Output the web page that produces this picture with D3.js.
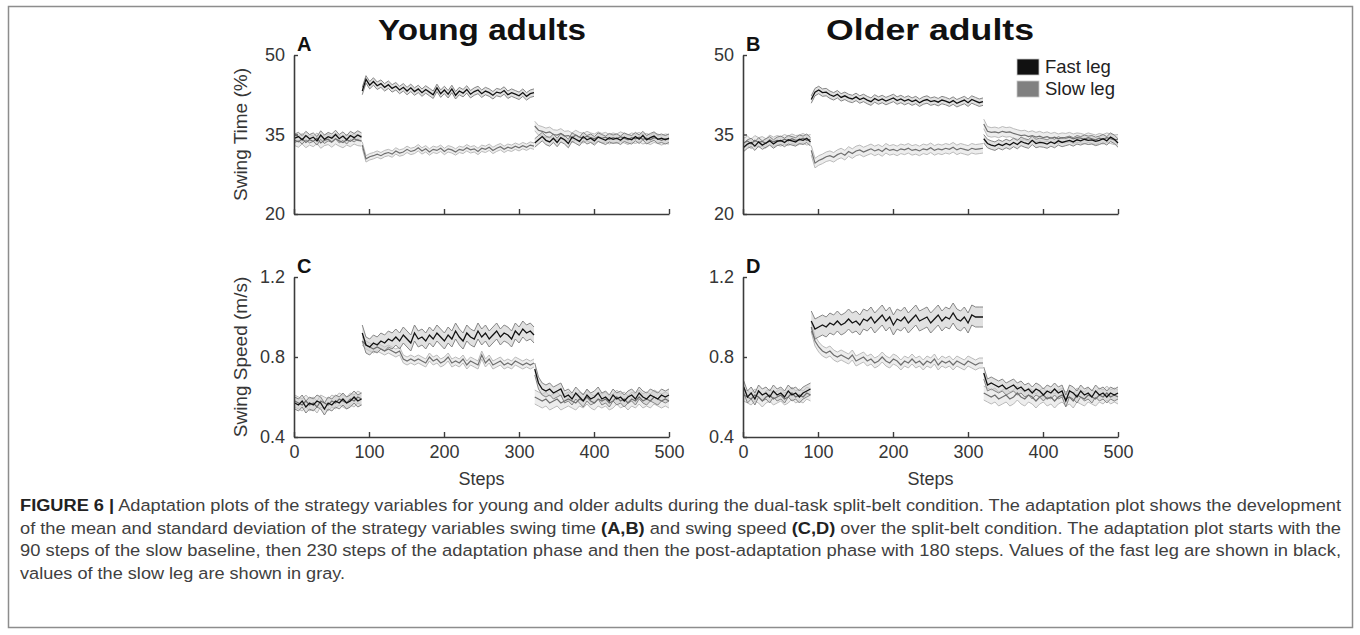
<!DOCTYPE html>
<html>
<head>
<meta charset="utf-8">
<script src="https://cdn.jsdelivr.net/npm/d3@7"></script>
<style>
  body { margin: 0; background: #fff; }
  svg { display: block; font-family: "Liberation Sans", Arial, Helvetica, sans-serif; }
</style>
</head>
<body>
<div id="chart"></div>
<script>
// Step ranges of the three phases: slow baseline, adaptation, post-adaptation
const phases = [[1, 90], [91, 320], [321, 500]];
const xTicks = [0, 100, 200, 300, 400, 500];

// Young adults, swing time (%) - [baseline, adaptation, post]
const youngTimeFast = [
    [34.3, 34.6, 34.0, 34.8, 34.2, 34.5, 33.8, 34.9, 34.1, 34.6, 34.3, 35.0, 34.2, 34.7, 34.0, 34.8, 34.4, 34.9, 34.5],
    [43.2, 45.4, 44.3, 45.0, 44.2, 44.6, 43.9, 44.4, 43.7, 44.1, 43.4, 43.9, 43.2, 43.8, 43.1, 43.6, 42.9, 43.5, 43.0, 42.5, 43.8, 42.7, 43.4, 42.6, 43.6, 42.4, 43.2, 42.8, 43.5, 42.6, 43.1, 43.4, 42.7, 43.2, 42.9, 42.4, 43.0, 42.8, 43.3, 42.5, 42.9, 42.6, 42.3, 42.9, 42.2, 42.7, 42.9],
    [33.4, 34.0, 34.6, 33.9, 33.6, 34.3, 33.5, 34.4, 34.0, 33.3, 34.5, 34.1, 33.7, 34.6, 34.0, 34.3, 33.8, 34.5, 34.2, 33.9, 34.4, 34.1, 34.3, 33.9, 34.5, 34.2, 34.0, 34.6, 34.1, 34.8, 34.0, 34.4, 34.7, 34.1, 34.3, 34.0, 34.3]
];
const youngTimeSlow = [
    [33.9, 33.6, 34.2, 33.5, 34.0, 33.7, 34.3, 33.4, 33.9, 34.1, 33.6, 34.2, 33.8, 33.5, 34.0, 33.7, 34.2, 33.9, 33.8],
    [33.0, 30.4, 30.8, 31.0, 31.3, 31.0, 31.4, 31.6, 31.3, 31.9, 31.5, 31.7, 32.2, 31.8, 32.0, 32.5, 31.9, 32.3, 31.7, 32.2, 32.0, 32.4, 31.8, 32.3, 32.1, 31.7, 32.2, 32.0, 32.5, 32.1, 32.3, 31.8, 32.4, 32.2, 32.6, 32.0, 32.4, 32.7, 32.2, 32.6, 32.4, 32.8, 32.5, 32.9, 32.6, 33.0, 32.8],
    [36.6, 35.8, 35.6, 35.3, 35.5, 35.0, 34.9, 35.2, 34.7, 34.8, 34.4, 34.9, 34.5, 34.3, 34.7, 34.4, 34.2, 34.6, 34.3, 34.5, 34.1, 34.4, 34.2, 34.6, 34.3, 34.0, 34.4, 34.2, 34.5, 34.1, 34.3, 34.0, 34.4, 34.2, 33.9, 34.2, 34.1]
];

// Older adults, swing time (%)
const olderTimeFast = [
    [32.6, 33.2, 33.5, 32.8, 33.6, 33.0, 33.4, 33.8, 33.2, 33.7, 33.9, 33.5, 34.0, 33.8, 33.6, 34.1, 33.9, 34.3, 33.6],
    [41.6, 43.0, 43.4, 42.9, 43.0, 42.5, 42.2, 42.6, 42.0, 42.3, 41.9, 41.7, 42.1, 41.6, 41.9, 41.5, 41.2, 41.8, 41.4, 41.7, 41.3, 41.6, 41.9, 41.4, 41.7, 41.3, 41.6, 41.2, 41.5, 41.0, 41.4, 41.6, 41.2, 41.4, 41.1, 41.5, 41.3, 41.0, 41.4, 40.9, 41.2, 41.5, 41.0, 41.6, 41.3, 41.0, 41.2],
    [34.2, 33.3, 33.0, 32.8, 33.2, 32.9, 33.3, 33.0, 33.5, 33.1, 33.7, 33.4, 33.2, 33.9, 33.3, 33.5, 33.4, 33.2, 33.6, 33.3, 33.8, 33.5, 33.7, 33.9, 33.6, 34.0, 33.8, 34.1, 33.9, 34.0, 33.7, 33.9, 34.2, 33.8, 34.5, 34.1, 33.4]
];
const olderTimeSlow = [
    [33.4, 33.8, 33.2, 33.9, 33.5, 33.7, 33.3, 34.0, 33.6, 33.9, 33.7, 34.1, 33.8, 34.2, 33.9, 34.0, 34.3, 33.9, 34.1],
    [32.0, 29.6, 30.1, 30.4, 30.8, 31.0, 30.7, 31.2, 31.5, 31.1, 31.8, 31.4, 31.9, 32.1, 31.7, 32.0, 32.3, 31.9, 32.2, 31.8, 32.4, 32.0, 32.2, 31.9, 32.3, 32.1, 32.4, 32.0, 32.2, 31.9, 32.3, 32.1, 32.5, 32.0, 32.3, 32.1, 32.4, 32.2, 32.6, 32.1, 32.4, 32.2, 32.0, 32.4, 32.2, 32.3, 32.4],
    [37.0, 35.6, 35.4, 35.5, 35.3, 35.6, 35.4, 35.5, 35.2, 35.0, 34.8, 34.9, 34.6, 34.8, 34.5, 34.7, 34.4, 34.6, 34.3, 34.5, 34.2, 34.4, 34.3, 34.5, 34.2, 34.4, 34.3, 34.1, 34.4, 34.2, 34.0, 34.3, 34.1, 34.4, 34.2, 34.0, 34.1]
];

// Young adults, swing speed (m/s)
const youngSpeedFast = [
    [0.57, 0.56, 0.58, 0.55, 0.57, 0.56, 0.58, 0.57, 0.54, 0.57, 0.56, 0.58, 0.57, 0.59, 0.57, 0.58, 0.60, 0.58, 0.59],
    [0.92, 0.86, 0.85, 0.87, 0.86, 0.88, 0.87, 0.89, 0.88, 0.90, 0.88, 0.91, 0.89, 0.87, 0.92, 0.89, 0.90, 0.88, 0.91, 0.89, 0.92, 0.90, 0.88, 0.91, 0.89, 0.93, 0.90, 0.88, 0.92, 0.90, 0.89, 0.93, 0.90, 0.92, 0.89, 0.91, 0.93, 0.90, 0.92, 0.91, 0.89, 0.93, 0.91, 0.94, 0.92, 0.93, 0.91],
    [0.74, 0.67, 0.64, 0.63, 0.64, 0.62, 0.63, 0.64, 0.60, 0.61, 0.59, 0.62, 0.60, 0.58, 0.61, 0.59, 0.60, 0.62, 0.59, 0.60, 0.58, 0.61, 0.59, 0.60, 0.58, 0.60, 0.61, 0.59, 0.62, 0.60, 0.59, 0.61, 0.60, 0.59, 0.61, 0.60, 0.61]
];
const youngSpeedSlow = [
    [0.58, 0.57, 0.56, 0.58, 0.56, 0.57, 0.55, 0.58, 0.57, 0.56, 0.58, 0.57, 0.59, 0.58, 0.57, 0.59, 0.58, 0.60, 0.59],
    [0.88, 0.86, 0.85, 0.84, 0.85, 0.84, 0.83, 0.84, 0.83, 0.82, 0.83, 0.79, 0.78, 0.79, 0.78, 0.79, 0.78, 0.77, 0.80, 0.78, 0.79, 0.77, 0.78, 0.80, 0.77, 0.78, 0.77, 0.79, 0.76, 0.78, 0.77, 0.76, 0.81, 0.77, 0.79, 0.76, 0.77, 0.78, 0.76, 0.77, 0.76, 0.78, 0.77, 0.76, 0.77, 0.76, 0.77],
    [0.60, 0.59, 0.58, 0.59, 0.57, 0.58, 0.59, 0.57, 0.58, 0.59, 0.58, 0.57, 0.59, 0.58, 0.60, 0.58, 0.57, 0.59, 0.58, 0.59, 0.57, 0.58, 0.60, 0.58, 0.59, 0.57, 0.59, 0.58, 0.60, 0.58, 0.59, 0.58, 0.60, 0.59, 0.58, 0.59, 0.58]
];

// Older adults, swing speed (m/s)
const olderSpeedFast = [
    [0.65, 0.60, 0.62, 0.59, 0.63, 0.61, 0.62, 0.60, 0.63, 0.61, 0.62, 0.60, 0.63, 0.61, 0.62, 0.60, 0.62, 0.63, 0.64],
    [0.98, 0.94, 0.95, 0.96, 0.95, 0.97, 0.96, 0.98, 0.96, 0.97, 0.99, 0.97, 0.98, 0.96, 0.99, 0.98, 1.00, 0.97, 0.99, 1.01, 0.98, 1.00, 0.96, 0.99, 0.98, 1.00, 0.97, 0.99, 1.01, 0.98, 0.99, 1.00, 0.97, 0.99, 1.01, 0.98, 1.00, 0.99, 1.02, 0.99, 0.98, 1.00, 0.97, 1.01, 1.00, 1.00, 1.00],
    [0.72, 0.66, 0.67, 0.66, 0.65, 0.66, 0.64, 0.65, 0.66, 0.64, 0.65, 0.63, 0.64, 0.62, 0.64, 0.63, 0.61, 0.63, 0.62, 0.64, 0.62, 0.63, 0.58, 0.63, 0.62, 0.60, 0.63, 0.61, 0.62, 0.60, 0.63, 0.61, 0.62, 0.60, 0.62, 0.61, 0.62]
];
const olderSpeedSlow = [
    [0.61, 0.60, 0.59, 0.61, 0.60, 0.58, 0.60, 0.61, 0.59, 0.60, 0.61, 0.59, 0.60, 0.62, 0.60, 0.61, 0.60, 0.62, 0.61],
    [0.95, 0.88, 0.85, 0.83, 0.82, 0.83, 0.81, 0.80, 0.81, 0.80, 0.79, 0.81, 0.78, 0.79, 0.80, 0.78, 0.79, 0.77, 0.78, 0.80, 0.78, 0.77, 0.79, 0.78, 0.76, 0.78, 0.77, 0.79, 0.77, 0.78, 0.76, 0.78, 0.77, 0.79, 0.76, 0.78, 0.77, 0.78, 0.76, 0.78, 0.77, 0.76, 0.78, 0.77, 0.76, 0.77, 0.77],
    [0.62, 0.61, 0.60, 0.61, 0.59, 0.60, 0.61, 0.59, 0.60, 0.62, 0.60, 0.59, 0.61, 0.60, 0.58, 0.60, 0.61, 0.59, 0.60, 0.58, 0.60, 0.61, 0.59, 0.60, 0.58, 0.61, 0.60, 0.59, 0.61, 0.60, 0.59, 0.61, 0.60, 0.62, 0.60, 0.61, 0.60]
];

// Standard deviation per phase [baseline, adaptation, post]
const youngTimeFastSd = [0.8, 0.7, 0.8];
const youngTimeSlowSd = [1.0, 0.6, 0.9];
const olderTimeFastSd = [0.8, 0.7, 0.8];
const olderTimeSlowSd = [0.9, 0.9, 0.9];
const youngSpeedFastSd = [0.03, 0.04, 0.03];
const youngSpeedSlowSd = [0.03, 0.02, 0.035];
const olderSpeedFastSd = [0.03, 0.05, 0.03];
const olderSpeedSlowSd = [0.03, 0.025, 0.035];

const legendLabels = ['Fast leg', 'Slow leg'];

const captionLines = [
    [['FIGURE 6 |', true], [' Adaptation plots of the strategy variables for young and older adults during the dual-task split-belt condition. The adaptation plot shows the development', false]],
    [['of the mean and standard deviation of the strategy variables swing time ', false], ['(A,B)', true], [' and swing speed ', false], ['(C,D)', true], [' over the split-belt condition. The adaptation plot starts with the', false]],
    [['90 steps of the slow baseline, then 230 steps of the adaptation phase and then the post-adaptation phase with 180 steps. Values of the fast leg are shown in black,', false]],
    [['values of the slow leg are shown in gray.', false]]
];

const W = 1360, H = 635;
const COLORS = {
    fastLine: '#111111', fastBand: '#c9c9c9', fastEdge: '#7a7a7a',
    slowLine: '#6f6f6f', slowBand: '#dedede', slowEdge: '#b3b3b3',
    axis: '#3c3c3c', text: '#363636'
};

const panels = [
    { letter: 'A', left: 294, right: 669, top: 55, bottom: 214, yDomain: [20, 50], yTicks: [20, 35, 50],
      fast: youngTimeFast, slow: youngTimeSlow, fastSd: youngTimeFastSd, slowSd: youngTimeSlowSd,
      title: 'Young adults', titleX: 482, yLabel: 'Swing Time (%)', xLabels: false, legend: false },
    { letter: 'B', left: 743, right: 1118, top: 55, bottom: 214, yDomain: [20, 50], yTicks: [20, 35, 50],
      fast: olderTimeFast, slow: olderTimeSlow, fastSd: olderTimeFastSd, slowSd: olderTimeSlowSd,
      title: 'Older adults', titleX: 930, yLabel: null, xLabels: false, legend: true },
    { letter: 'C', left: 294, right: 669, top: 277, bottom: 437, yDomain: [0.4, 1.2], yTicks: [0.4, 0.8, 1.2],
      fast: youngSpeedFast, slow: youngSpeedSlow, fastSd: youngSpeedFastSd, slowSd: youngSpeedSlowSd,
      title: null, yLabel: 'Swing Speed (m/s)', xLabels: true, legend: false },
    { letter: 'D', left: 743, right: 1118, top: 277, bottom: 437, yDomain: [0.4, 1.2], yTicks: [0.4, 0.8, 1.2],
      fast: olderSpeedFast, slow: olderSpeedSlow, fastSd: olderSpeedFastSd, slowSd: olderSpeedSlowSd,
      title: null, yLabel: null, xLabels: true, legend: false }
];

const svg = d3.select('#chart').append('svg')
    .attr('width', W)
    .attr('height', H);

svg.append('rect').attr('width', W).attr('height', H).attr('fill', '#fff');

// Outer frame around figure + caption
svg.append('rect')
    .attr('x', 8.5).attr('y', 6.5)
    .attr('width', 1344).attr('height', 621)
    .attr('fill', 'none')
    .attr('stroke', '#8d8d8d')
    .attr('stroke-width', 1.5);

// Turn one series (three phases) into point lists
function toSegments(series, sd) {
    return series.map((vals, p) => {
        const [s0, s1] = phases[p];
        const n = vals.length;
        return vals.map((v, i) => ({
            step: s0 + i * (s1 - s0) / (n - 1),
            mean: v,
            sd: sd[p]
        }));
    });
}

function drawPanel(cfg) {
    const x = d3.scaleLinear().domain([0, 500]).range([cfg.left, cfg.right]);
    const y = d3.scaleLinear().domain(cfg.yDomain).range([cfg.bottom, cfg.top]);
    const g = svg.append('g');

    const line = d3.line().x(d => x(d.step)).y(d => y(d.mean));
    const lo = d3.line().x(d => x(d.step)).y(d => y(d.mean - d.sd));
    const hi = d3.line().x(d => x(d.step)).y(d => y(d.mean + d.sd));
    const area = d3.area().x(d => x(d.step)).y0(d => y(d.mean - d.sd)).y1(d => y(d.mean + d.sd));

    const fastSegs = toSegments(cfg.fast, cfg.fastSd);
    const slowSegs = toSegments(cfg.slow, cfg.slowSd);

    // bands
    [[slowSegs, COLORS.slowBand, COLORS.slowEdge], [fastSegs, COLORS.fastBand, COLORS.fastEdge]].forEach(([segs, fill, edge]) => {
        segs.forEach(seg => {
            g.append('path').attr('d', area(seg)).attr('fill', fill).attr('opacity', 0.55);
            g.append('path').attr('d', lo(seg)).attr('fill', 'none').attr('stroke', edge).attr('stroke-width', 0.9);
            g.append('path').attr('d', hi(seg)).attr('fill', 'none').attr('stroke', edge).attr('stroke-width', 0.9);
        });
    });

    // means
    slowSegs.forEach(seg => {
        g.append('path').attr('d', line(seg)).attr('fill', 'none')
            .attr('stroke', COLORS.slowLine).attr('stroke-width', 1.2);
    });
    fastSegs.forEach(seg => {
        g.append('path').attr('d', line(seg)).attr('fill', 'none')
            .attr('stroke', COLORS.fastLine).attr('stroke-width', 1.3);
    });

    // axes
    const xAxis = d3.axisBottom(x).tickValues(xTicks).tickSizeInner(-5).tickSizeOuter(0)
        .tickFormat(cfg.xLabels ? d3.format('d') : () => '');
    const gx = g.append('g').attr('transform', `translate(0,${cfg.bottom})`).call(xAxis);
    gx.select('.domain').attr('stroke', COLORS.axis).attr('stroke-width', 1.6);
    gx.selectAll('.tick line').attr('stroke', COLORS.axis).attr('stroke-width', 1.4);
    gx.selectAll('.tick text').attr('fill', COLORS.text).attr('font-size', 18)
        .attr('font-family', '"Liberation Sans", Arial, sans-serif').attr('dy', '1.0em');

    const yAxis = d3.axisLeft(y).tickValues(cfg.yTicks).tickSizeInner(-4).tickSizeOuter(0)
        .tickFormat(d3.format(cfg.yDomain[1] > 10 ? 'd' : '.1f'));
    const gy = g.append('g').attr('transform', `translate(${cfg.left},0)`).call(yAxis);
    gy.select('.domain').attr('stroke', COLORS.axis).attr('stroke-width', 1.6);
    gy.selectAll('.tick line').attr('stroke', COLORS.axis).attr('stroke-width', 1.4);
    gy.selectAll('.tick text').attr('fill', COLORS.text).attr('font-size', 18)
        .attr('font-family', '"Liberation Sans", Arial, sans-serif').attr('x', -9);

    // panel letter
    g.append('text')
        .attr('x', cfg.left + 3).attr('y', cfg.top - 4)
        .attr('font-size', 20).attr('font-weight', 'bold').attr('fill', '#111')
        .text(cfg.letter);

    if (cfg.title) {
        g.append('text')
            .attr('x', cfg.titleX).attr('y', 40)
            .attr('text-anchor', 'middle')
            .attr('font-size', 29).attr('font-weight', 'bold').attr('fill', '#111')
            .attr('textLength', 208).attr('lengthAdjust', 'spacingAndGlyphs')
            .text(cfg.title);
    }

    if (cfg.yLabel) {
        g.append('text')
            .attr('transform', `translate(247,${(cfg.top + cfg.bottom) / 2}) rotate(-90)`)
            .attr('text-anchor', 'middle')
            .attr('font-size', 19).attr('fill', COLORS.text)
            .text(cfg.yLabel);
    }

    if (cfg.xLabels) {
        g.append('text')
            .attr('x', (cfg.left + cfg.right) / 2).attr('y', 485)
            .attr('text-anchor', 'middle')
            .attr('font-size', 18).attr('fill', COLORS.text)
            .text('Steps');
    }

    if (cfg.legend) {
        const lg = g.append('g').attr('transform', 'translate(1017,59)');
        [COLORS.fastLine, '#808080'].forEach((c, i) => {
            lg.append('rect').attr('x', 0).attr('y', i * 22).attr('width', 22).attr('height', 16)
                .attr('fill', c).attr('stroke', '#c8c8c8').attr('stroke-width', 0.8);
            lg.append('text').attr('x', 28).attr('y', i * 22 + 14)
                .attr('font-size', 18.5).attr('fill', '#222')
                .text(legendLabels[i]);
        });
    }
}

panels.forEach(drawPanel);

// Caption, justified like the journal layout
function drawCaption() {
    const left = 20, right = 1341, baseY = 511, lh = 22.5;
    captionLines.forEach((parts, i) => {
        const t = svg.append('text')
            .attr('x', left).attr('y', baseY + i * lh)
            .attr('font-size', 16.8).attr('fill', '#404040')
            .attr('font-family', '"Liberation Sans", Arial, sans-serif');
        parts.forEach(([str, bold]) => {
            t.append('tspan').attr('font-weight', bold ? 'bold' : 'normal')
                .attr('fill', bold ? '#222' : '#404040')
                .text(str);
        });
        if (i < captionLines.length - 1) {
            // stretch glyphs a little so the line fills the measure, like the wider original face
            t.attr('textLength', right - left).attr('lengthAdjust', 'spacingAndGlyphs');
        } else {
            const natural = t.node().getComputedTextLength();
            t.attr('textLength', natural * 1.08).attr('lengthAdjust', 'spacingAndGlyphs');
        }
    });
}

drawCaption();
</script>
</body>
</html>
